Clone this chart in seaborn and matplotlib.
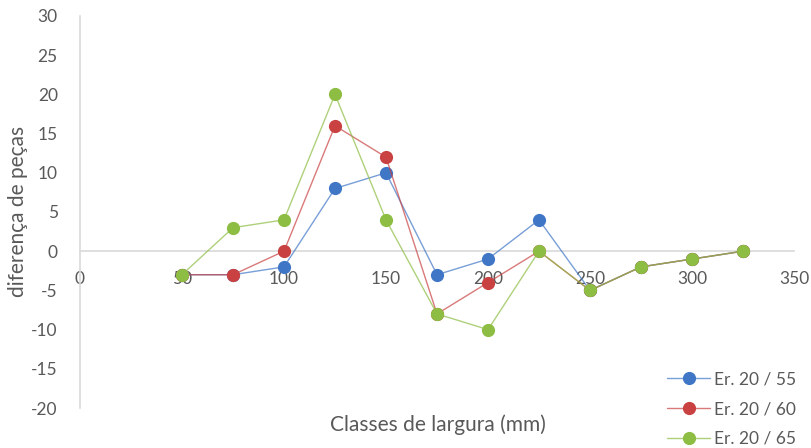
import matplotlib
matplotlib.use("Agg")
import matplotlib.pyplot as plt
from matplotlib.colors import to_rgba
import seaborn as sns
import pandas as pd

# Width classes (mm) and piece differences per series
classes = [50, 75, 100, 125, 150, 175, 200, 225, 250, 275, 300, 325]
er_20_55 = [-3, -3, -2, 8, 10, -3, -1, 4, -5, -2, -1, 0]
er_20_60 = [-3, -3, 0, 16, 12, -8, -4, 0, -5, -2, -1, 0]
er_20_65 = [-3, 3, 4, 20, 4, -8, -10, 0, -5, -2, -1, 0]
series_names = ["Er. 20 / 55", "Er. 20 / 60", "Er. 20 / 65"]
x_ticks = [0, 50, 100, 150, 200, 250, 300, 350]
y_ticks = [-20, -15, -10, -5, 0, 5, 10, 15, 20, 25, 30]

df = pd.concat([
    pd.DataFrame({"classe": classes, "diff": vals, "serie": name})
    for name, vals in zip(series_names, [er_20_55, er_20_60, er_20_65])
])

sns.set_theme(style="white")
plt.rcParams["font.family"] = ["Lato", "DejaVu Sans"]
plt.rcParams["axes.unicode_minus"] = False
text_gray = "#595959"
axis_gray = "#D9D9D9"
palette = {"Er. 20 / 55": "#3F76C6", "Er. 20 / 60": "#C94141", "Er. 20 / 65": "#8DBD43"}

fig = plt.figure(figsize=(8.12, 4.48), dpi=100)
ax = fig.add_axes([80 / 812, 40 / 448, 714 / 812, 392 / 448])

sns.lineplot(data=df, x="classe", y="diff", hue="serie", palette=palette,
             marker="o", markersize=9.5, markeredgewidth=0, linewidth=1.0,
             ax=ax, legend=True)


def soften(line):
    # translucent connecting line, solid marker
    base = to_rgba(line.get_color())
    line.set_alpha(None)
    line.set_markerfacecolor(base[:3] + (1.0,))
    line.set_markeredgecolor(base[:3] + (1.0,))
    line.set_color(base[:3] + (0.7,))


for line in ax.lines:
    soften(line)

ax.set_xlim(0, 350)
ax.set_ylim(-20, 30)
ax.set_xticks(x_ticks)
ax.set_yticks(y_ticks)
ax.set_xlabel("")
ax.set_ylabel("")

for side in ["top", "right"]:
    ax.spines[side].set_visible(False)
ax.spines["left"].set_color(axis_gray)
ax.spines["left"].set_linewidth(1.2)
ax.spines["bottom"].set_position(("data", 0))
ax.spines["bottom"].set_color(axis_gray)
ax.spines["bottom"].set_linewidth(1.2)
ax.spines["bottom"].set_zorder(0)

ax.tick_params(axis="x", length=0, pad=14, labelsize=12.5, labelcolor=text_gray)
ax.tick_params(axis="y", length=0, pad=16, labelsize=12.5, labelcolor=text_gray)

fig.text(438 / 812, 1 - 425 / 448, "Classes de largura (mm)", ha="center", va="center",
         fontsize=15, color=text_gray)
fig.text(18 / 812, 1 - 211 / 448, "diferença de peças", ha="center", va="center",
         rotation=90, fontsize=15, color=text_gray)

handles, labels = ax.get_legend_handles_labels()
leg = ax.legend(handles, labels, loc="center left", bbox_to_anchor=(667 / 812, 1 - 409 / 448),
                bbox_transform=fig.transFigure, frameon=False, fontsize=12.5,
                handlelength=2.5, handletextpad=0.2, labelspacing=0.8, borderaxespad=0,
                borderpad=0)
for t in leg.get_texts():
    t.set_color(text_gray)
for line in leg.get_lines():
    soften(line)

fig.savefig("out.png", dpi=100)
